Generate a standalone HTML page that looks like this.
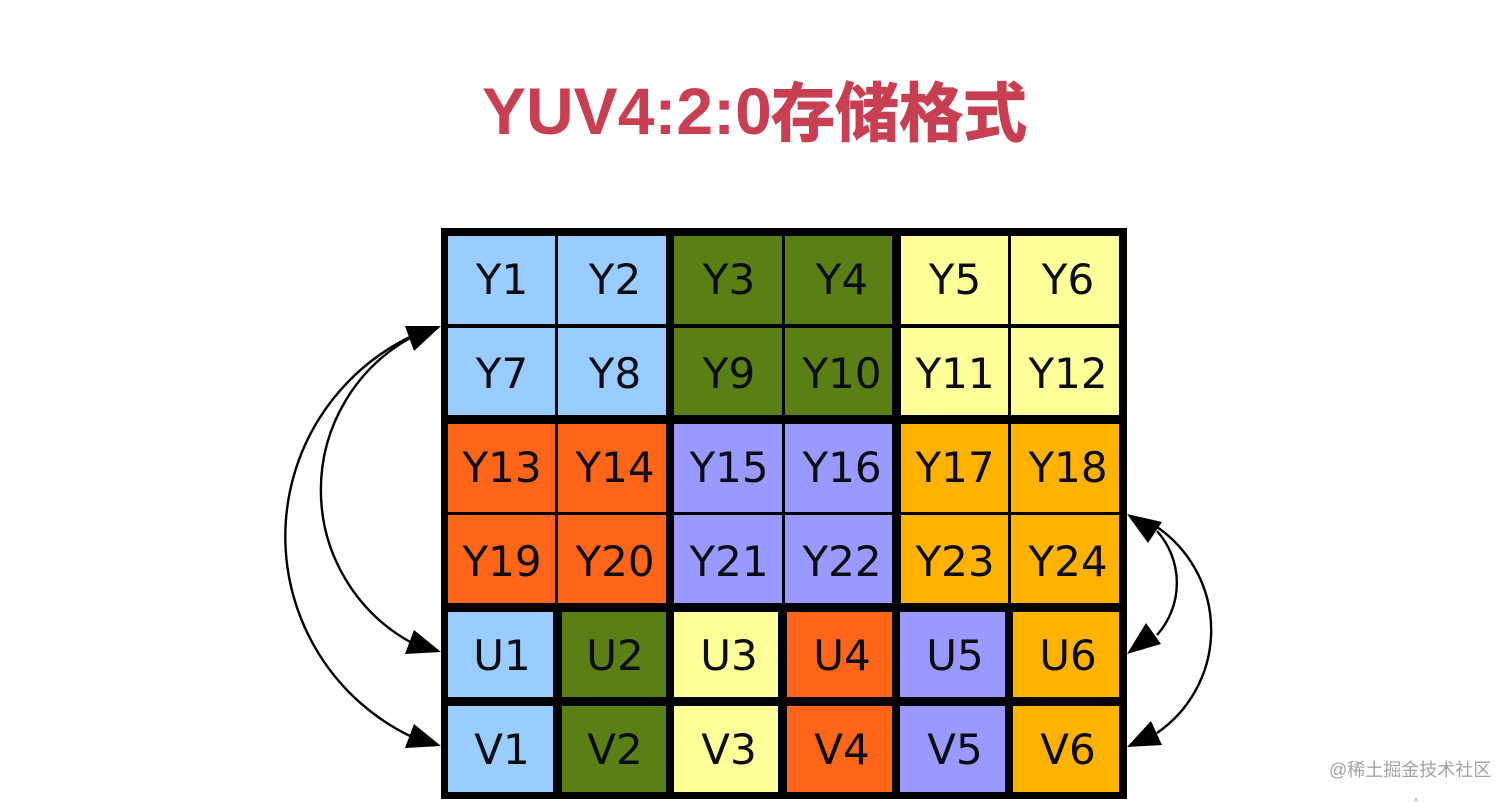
<!DOCTYPE html>
<html><head><meta charset="utf-8"><style>
html,body{margin:0;padding:0;background:#fff}
svg{display:block}
.c{font-family:"DejaVu Sans",sans-serif;font-size:42px;fill:#0c0c14;text-anchor:middle}
</style></head><body>
<svg width="1512" height="802" viewBox="0 0 1512 802" xmlns="http://www.w3.org/2000/svg">
<rect width="1512" height="802" fill="#fff"/>
<text x="482" y="134" font-family="'Liberation Sans',sans-serif" font-weight="700" font-size="66" fill="#c83f52">YUV4:2:0</text>
<text x="771" y="136" font-family="'Noto Sans CJK SC',sans-serif" font-weight="700" font-size="64" fill="#c83f52" stroke="#c83f52" stroke-width="1.2">存储格式</text>
<rect x="441" y="228" width="686" height="571" fill="#000"/>
<g>
<rect x="448" y="236" width="107" height="88" fill="#99ccff"/><rect x="558" y="236" width="108" height="88" fill="#99ccff"/>
<rect x="674" y="236" width="108" height="88" fill="#5a7f14"/><rect x="785" y="236" width="107" height="88" fill="#5a7f14"/>
<rect x="901" y="236" width="107" height="88" fill="#ffff99"/><rect x="1011" y="236" width="108" height="88" fill="#ffff99"/>
<rect x="448" y="328" width="107" height="87" fill="#99ccff"/><rect x="558" y="328" width="108" height="87" fill="#99ccff"/>
<rect x="674" y="328" width="108" height="87" fill="#5a7f14"/><rect x="785" y="328" width="107" height="87" fill="#5a7f14"/>
<rect x="901" y="328" width="107" height="87" fill="#ffff99"/><rect x="1011" y="328" width="108" height="87" fill="#ffff99"/>
<rect x="448" y="424" width="107" height="88" fill="#ff6619"/><rect x="558" y="424" width="108" height="88" fill="#ff6619"/>
<rect x="674" y="424" width="108" height="88" fill="#9999ff"/><rect x="785" y="424" width="107" height="88" fill="#9999ff"/>
<rect x="901" y="424" width="107" height="88" fill="#ffb300"/><rect x="1011" y="424" width="108" height="88" fill="#ffb300"/>
<rect x="448" y="515" width="107" height="88" fill="#ff6619"/><rect x="558" y="515" width="108" height="88" fill="#ff6619"/>
<rect x="674" y="515" width="108" height="88" fill="#9999ff"/><rect x="785" y="515" width="107" height="88" fill="#9999ff"/>
<rect x="901" y="515" width="107" height="88" fill="#ffb300"/><rect x="1011" y="515" width="108" height="88" fill="#ffb300"/>
<rect x="448" y="612" width="105" height="85" fill="#99ccff"/><rect x="562" y="612" width="104" height="85" fill="#5a7f14"/>
<rect x="674" y="612" width="104" height="85" fill="#ffff99"/><rect x="787" y="612" width="105" height="85" fill="#ff6619"/>
<rect x="900" y="612" width="105" height="85" fill="#9999ff"/><rect x="1013" y="612" width="106" height="85" fill="#ffb300"/>
<rect x="448" y="706" width="105" height="86" fill="#99ccff"/><rect x="562" y="706" width="104" height="86" fill="#5a7f14"/>
<rect x="674" y="706" width="104" height="86" fill="#ffff99"/><rect x="787" y="706" width="105" height="86" fill="#ff6619"/>
<rect x="900" y="706" width="105" height="86" fill="#9999ff"/><rect x="1013" y="706" width="106" height="86" fill="#ffb300"/>
</g>
<g transform="translate(1 0)">
<text class="c" x="501" y="294">Y1</text><text class="c" x="614" y="294">Y2</text><text class="c" x="728" y="294">Y3</text><text class="c" x="841" y="294">Y4</text><text class="c" x="954" y="294">Y5</text><text class="c" x="1067" y="294">Y6</text>
<text class="c" x="501" y="388">Y7</text><text class="c" x="614" y="388">Y8</text><text class="c" x="728" y="388">Y9</text><text class="c" x="841" y="388">Y10</text><text class="c" x="954" y="388">Y11</text><text class="c" x="1067" y="388">Y12</text>
<text class="c" x="501" y="482">Y13</text><text class="c" x="614" y="482">Y14</text><text class="c" x="728" y="482">Y15</text><text class="c" x="841" y="482">Y16</text><text class="c" x="954" y="482">Y17</text><text class="c" x="1067" y="482">Y18</text>
<text class="c" x="501" y="576">Y19</text><text class="c" x="614" y="576">Y20</text><text class="c" x="728" y="576">Y21</text><text class="c" x="841" y="576">Y22</text><text class="c" x="954" y="576">Y23</text><text class="c" x="1067" y="576">Y24</text>
<text class="c" x="501" y="670">U1</text><text class="c" x="614" y="670">U2</text><text class="c" x="728" y="670">U3</text><text class="c" x="841" y="670">U4</text><text class="c" x="954" y="670">U5</text><text class="c" x="1067" y="670">U6</text>
<text class="c" x="501" y="764">V1</text><text class="c" x="614" y="764">V2</text><text class="c" x="728" y="764">V3</text><text class="c" x="841" y="764">V4</text><text class="c" x="954" y="764">V5</text><text class="c" x="1067" y="764">V6</text>
</g>
<g fill="none" stroke="#000" stroke-width="2.4">
<path d="M412 336A222 222 0 0 0 412 737"/>
<path d="M412 337A174 174 0 0 0 412 643"/>
<path d="M1157 531A78 78 0 0 1 1157 635"/>
<path d="M1157 527A125 125 0 0 1 1157 733"/>
</g>
<g fill="#000">
<polygon points="441,326 405,326 414,351"/>
<polygon points="441,652 405,654 414,630"/>
<polygon points="441,746 405,748 414,724"/>
<polygon points="1127,514 1162,522 1148,543"/>
<polygon points="1127,654 1161,644 1146,623"/>
<polygon points="1127,747 1162,745 1151,721"/>
</g>
<text x="1329" y="776" font-family="'Liberation Sans','Noto Sans CJK SC',sans-serif" font-size="18" fill="#a2a2a2">@稀土掘金技术社区</text>
<rect x="1415" y="798" width="2" height="3" fill="#e8b0b0"/>
</svg>
</body></html>
